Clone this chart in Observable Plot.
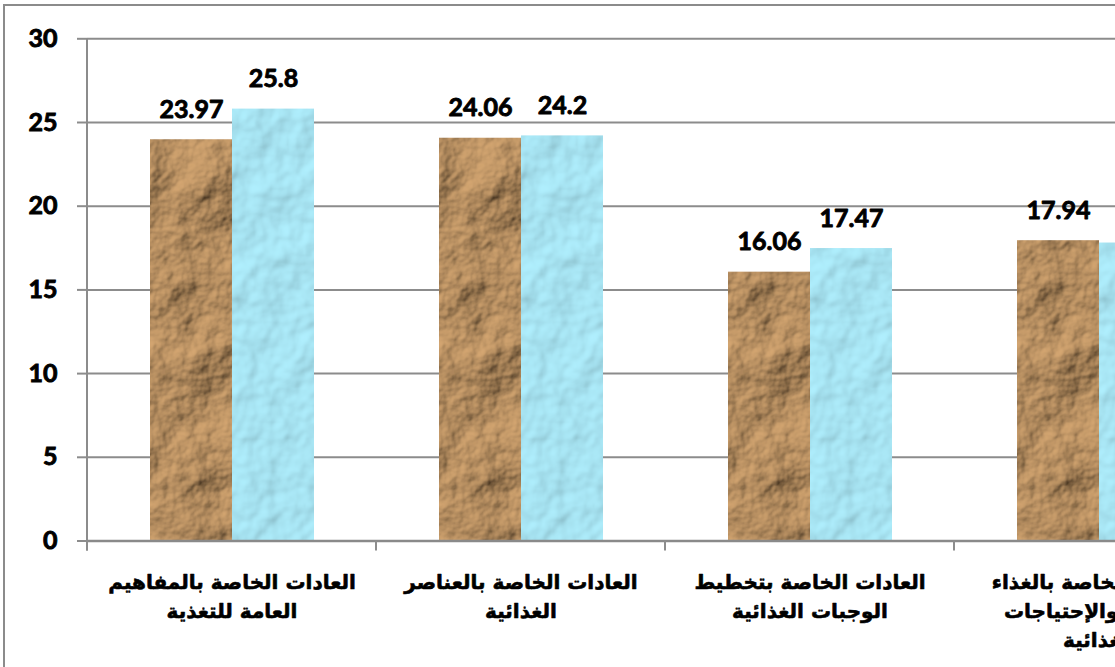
<!DOCTYPE html>
<html><head><meta charset="utf-8">
<script src="https://cdn.jsdelivr.net/npm/d3@7"></script>
<script src="https://cdn.jsdelivr.net/npm/@observablehq/plot@0.6"></script>
<style>
html,body{margin:0;padding:0;overflow:hidden;background:#fff;}
#wrap{position:absolute;left:3px;top:4px;width:1400px;height:800px;border:2px solid #8b8b8b;background:#fff;}
#wrap svg{display:block;}
</style></head><body>
<svg width="0" height="0" style="position:absolute">
 <defs>
  <filter id="crumple" x="0" y="0" width="100%" height="100%">
   <feTurbulence type="fractalNoise" baseFrequency="0.014" numOctaves="5" seed="11" result="noise"/>
   <feDiffuseLighting in="noise" lighting-color="#d6a772" surfaceScale="12" diffuseConstant="1" result="light">
    <feDistantLight azimuth="225" elevation="42"/>
   </feDiffuseLighting>
  </filter>
  <filter id="drops" x="0" y="0" width="100%" height="100%">
   <feTurbulence type="fractalNoise" baseFrequency="0.03" numOctaves="3" seed="5" result="noise"/>
   <feDiffuseLighting in="noise" lighting-color="#b0f0ff" surfaceScale="4" diffuseConstant="1" result="light">
    <feDistantLight azimuth="225" elevation="62"/>
   </feDiffuseLighting>
  </filter>
  <pattern id="brownTex" patternUnits="userSpaceOnUse" x="0" y="0" width="320" height="700">
   <rect width="320" height="700" fill="#b08c62" filter="url(#crumple)"/>
  </pattern>
  <pattern id="blueTex" patternUnits="userSpaceOnUse" x="0" y="0" width="320" height="700">
   <rect width="320" height="700" fill="#a8deea" filter="url(#drops)"/>
  </pattern>
 </defs>
</svg>
<div id="wrap"></div>
<script>
const categories = [
  "العادات الخاصة بالمفاهيم\nالعامة للتغذية",
  "العادات الخاصة بالعناصر\nالغذائية",
  "العادات الخاصة بتخطيط\nالوجبات الغذائية",
  "العادات الخاصة بالغذاء\nالصحي والإحتياجات\nالغذائية"
];
const series = ["القياس الأول", "القياس الثاني"];
const seriesA = [23.97, 24.06, 16.06, 17.94];
const seriesB = [25.8, 24.2, 17.47, 17.8];
const yTicks = [0, 5, 10, 15, 20, 25, 30];

const data = categories.flatMap((c, i) => [
  {cat: c, s: series[0], v: seriesA[i]},
  {cat: c, s: series[1], v: seriesB[i]}
]);

const chart = Plot.plot({
  width: 1258, height: 680,
  marginLeft: 82, marginRight: 20, marginTop: 32.3, marginBottom: 145.5,
  fx: {domain: categories, padding: 0, axis: null},
  x: {domain: series, paddingInner: 0, paddingOuter: 0.75, axis: null},
  y: {domain: [0, 30]},
  color: {domain: series, range: ["url(#brownTex)", "url(#blueTex)"]},
  style: {fontFamily: "Lato, 'Open Sans', sans-serif", background: "transparent", overflow: "visible"},
  marks: [
    Plot.gridY(yTicks, {stroke: "#8c8c8c", strokeOpacity: 1, strokeWidth: 2}),
    Plot.axisY(yTicks, {tickSize: 10, tickPadding: 20, stroke: "#8c8c8c", strokeWidth: 2, strokeOpacity: 1,
      fontSize: 25, fontWeight: "bold", fill: "#000", label: null, tickFormat: d => String(d)}),
    Plot.barY(data, {fx: "cat", x: "s", y: "v", fill: "s"}),
    Plot.ruleY([0], {stroke: "#8a8a8a", strokeWidth: 2.5}),
    Plot.text(data, {fx: "cat", x: "s", y: "v", text: d => String(d.v), lineAnchor: "bottom", dy: -22,
      fontSize: 25, fontWeight: "bold", fill: "#000", stroke: "#000", strokeWidth: 0.9}),
    Plot.text(categories, {fx: d => d, text: d => d, frameAnchor: "bottom", lineAnchor: "top", dy: 27,
      fontSize: 20, fontWeight: "bold", fontFamily: "'DejaVu Sans', sans-serif", lineHeight: 1.45,
      fill: "#000", stroke: "#000", strokeWidth: 0.6})
  ]
});

document.getElementById("wrap").appendChild(chart);

// thicken y tick labels to match the heavy reference type
d3.select(chart).selectAll("[aria-label='y-axis tick label'] text").attr("stroke", "#000").attr("stroke-width", 0.9);

// axis line and category boundary ticks, positioned with Plot's own scales
const fx = chart.scale("fx");
const y = chart.scale("y");
const svg = d3.select(chart);
const left = fx.apply(categories[0]);
const bounds = categories.map(c => fx.apply(c)).concat([fx.apply(categories[categories.length - 1]) + fx.bandwidth]);
const g = svg.append("g").attr("stroke", "#8c8c8c").attr("stroke-width", 2);
g.append("line").attr("x1", left).attr("x2", left).attr("y1", y.apply(30)).attr("y2", y.apply(0) + 10);
g.selectAll("line.b").data(bounds).join("line").attr("class", "b")
  .attr("x1", d => d).attr("x2", d => d).attr("y1", y.apply(0)).attr("y2", y.apply(0) + 10);
</script>
</body></html>
